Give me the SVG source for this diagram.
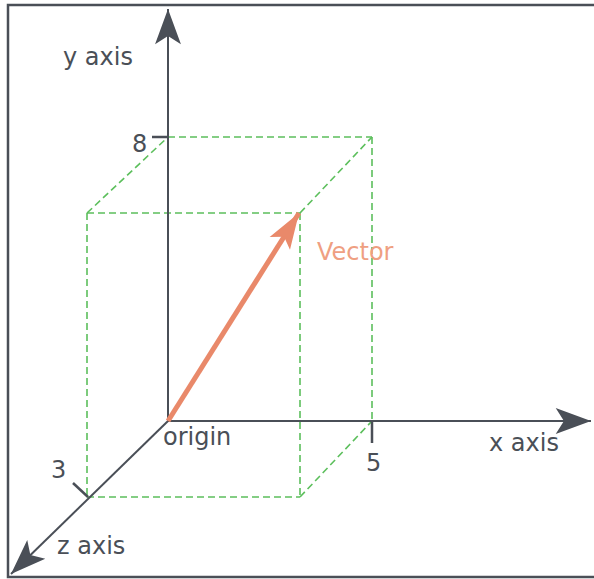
<svg xmlns="http://www.w3.org/2000/svg" width="594" height="579" viewBox="0 0 594 579">
  <style>
    .axis { stroke: #4a4f57; stroke-width: 2; fill: none; }
    .tick { stroke: #4a4f57; stroke-width: 2.5; fill: none; }
    .box { stroke: #5cbf5c; stroke-width: 1.6; stroke-dasharray: 7 4; fill: none; }
    .lbl { font-family: "DejaVu Sans", "Liberation Sans", sans-serif; font-size: 24px; fill: #4a4f57; }
    .vec { stroke: #e9896a; stroke-width: 5; fill: none; }
    .veclbl { font-family: "DejaVu Sans", "Liberation Sans", sans-serif; font-size: 24px; fill: #ef9f82; }
  </style>
  <defs>
    <marker id="axhead" markerUnits="userSpaceOnUse" markerWidth="40" markerHeight="30" viewBox="-32 -12 34 24" refX="0" refY="0" orient="auto">
      <path d="M0,0 L-30,-11 L-23,0 L-30,11 Z" fill="#4a4f57"/>
    </marker>
    <marker id="vechead" markerUnits="userSpaceOnUse" markerWidth="40" markerHeight="30" viewBox="-38 -13 40 26" refX="0" refY="0" orient="auto">
      <path d="M0,0 L-36,-12 L-28,0 L-36,12 Z" fill="#e9896a"/>
    </marker>
  </defs>
  <rect x="8" y="5" width="600" height="572" fill="#ffffff" stroke="#4a4f57" stroke-width="2.5"/>

  <g id="box">
    <line class="box" x1="168" y1="137" x2="372" y2="137"/>
    <line class="box" x1="372" y1="137" x2="372" y2="421"/>
    <line class="box" x1="87" y1="213" x2="300" y2="213"/>
    <line class="box" x1="87" y1="213" x2="87" y2="497"/>
    <line class="box" x1="300" y1="213" x2="300" y2="497"/>
    <line class="box" x1="87" y1="497" x2="300" y2="497"/>
    <line class="box" x1="87" y1="213" x2="168" y2="137"/>
    <line class="box" x1="300" y1="213" x2="372" y2="137"/>
    <line class="box" x1="300" y1="497" x2="372" y2="421"/>
  </g>

  <g id="connectors">
    <line id="y-axis" class="axis" x1="168" y1="421" x2="168" y2="9" marker-end="url(#axhead)"/>
    <line id="x-axis" class="axis" x1="168" y1="421" x2="591" y2="421" marker-end="url(#axhead)"/>
    <line id="z-axis" class="axis" x1="168" y1="421" x2="11" y2="574" marker-end="url(#axhead)"/>
    <line id="vector" class="vec" x1="168" y1="421" x2="299" y2="213" marker-end="url(#vechead)"/>
  </g>

  <g id="ticks">
    <line class="tick" x1="152" y1="137" x2="168" y2="137"/>
    <line class="tick" x1="372" y1="421" x2="372" y2="443"/>
    <line class="tick" x1="73" y1="483" x2="88" y2="497"/>
  </g>

  <g id="labels">
    <text class="lbl" x="63" y="65">y axis</text>
    <text class="lbl" x="489" y="451">x axis</text>
    <text class="lbl" x="57" y="554">z axis</text>
    <text class="lbl" x="163" y="445">origin</text>
    <text class="lbl" x="132" y="152">8</text>
    <text class="lbl" x="366" y="471">5</text>
    <text class="lbl" x="51" y="478">3</text>
    <text class="veclbl" x="317" y="260">Vector</text>
  </g>
</svg>
